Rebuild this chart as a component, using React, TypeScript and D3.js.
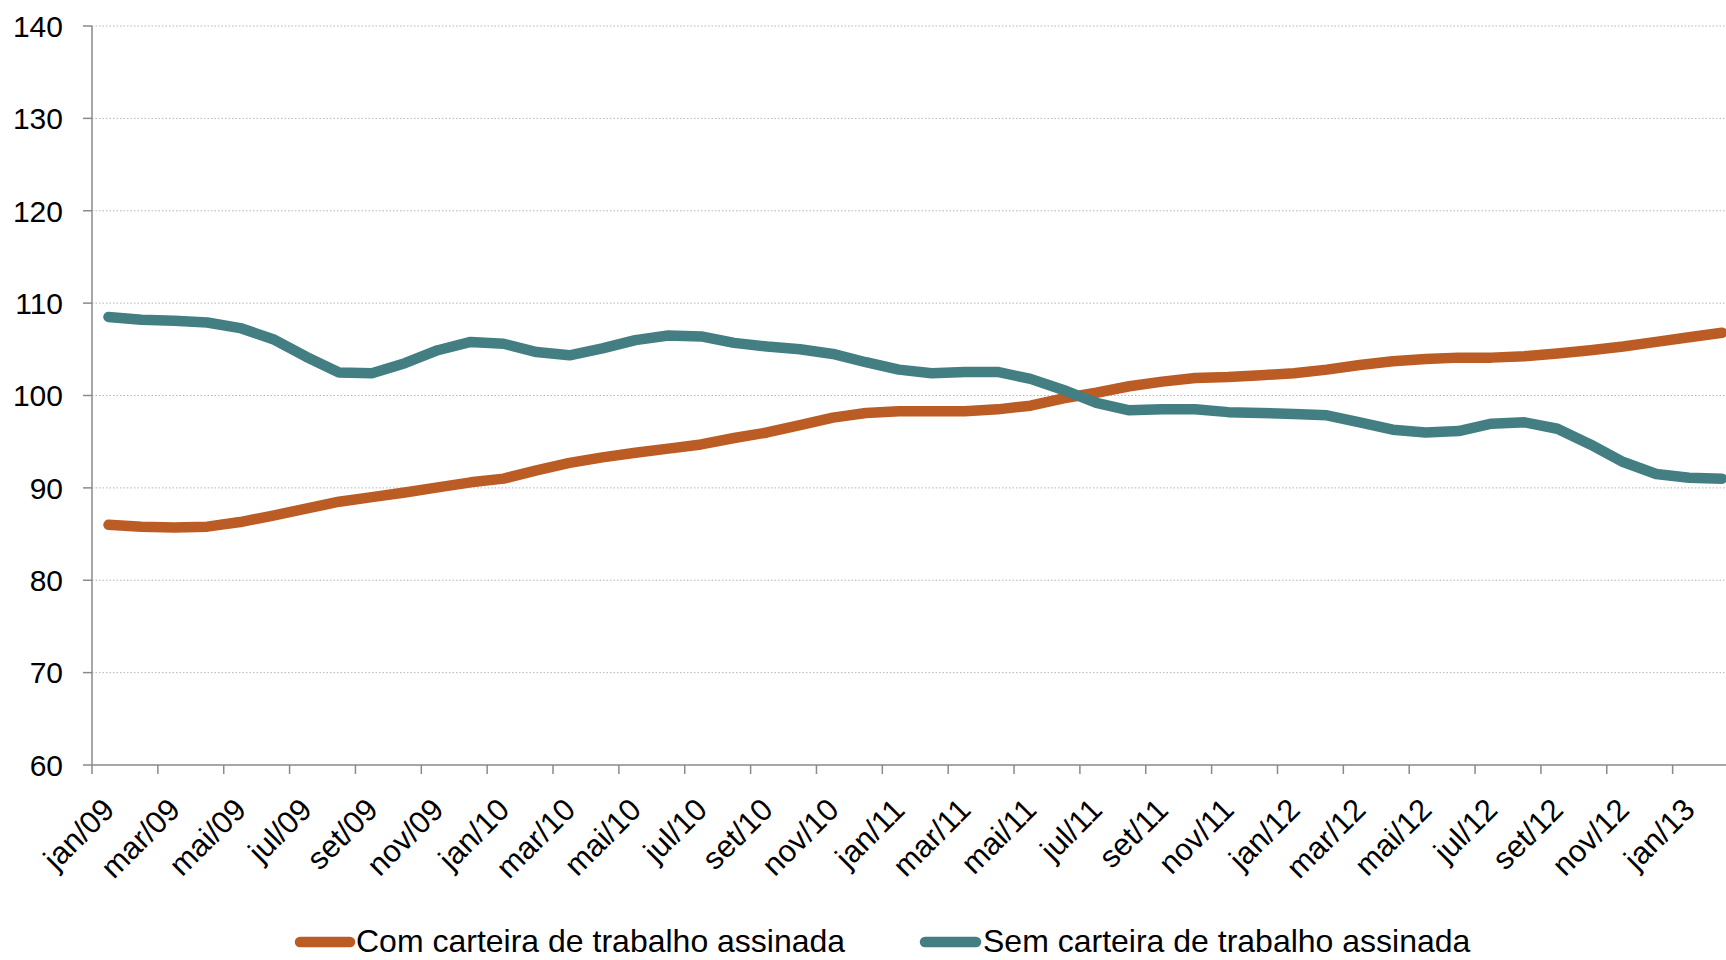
import * as d3 from "d3";

// month abbreviations (pt-BR), jan/09 .. fev/13
const MONTHS = ["jan", "fev", "mar", "abr", "mai", "jun", "jul", "ago", "set", "out", "nov", "dez"];
const YEARS = ["09", "10", "11", "12", "13"];
const CATEGORIES: string[] = YEARS.flatMap((y) => MONTHS.map((m) => `${m}/${y}`)).slice(0, 50);

const COM_CARTEIRA = [
  86.0, 85.8, 85.7, 85.8, 86.3, 87.0, 87.75, 88.5, 89.0, 89.5, 90.05, 90.6,
  91.0, 91.9, 92.7, 93.3, 93.8, 94.25, 94.7, 95.4, 96.0, 96.8, 97.6, 98.1,
  98.3, 98.3, 98.3, 98.5, 98.9, 99.7, 100.3, 101.0, 101.5, 101.9, 102.0, 102.2,
  102.4, 102.8, 103.3, 103.7, 103.95, 104.1, 104.1, 104.25, 104.55, 104.9, 105.3, 105.8,
  106.3, 106.8,
];

const SEM_CARTEIRA = [
  108.5, 108.2, 108.1, 107.9, 107.3, 106.1, 104.2, 102.5, 102.4, 103.5, 104.9, 105.8,
  105.6, 104.7, 104.35, 105.1, 106.0, 106.5, 106.4, 105.7, 105.3, 105.0, 104.5, 103.6,
  102.8, 102.4, 102.55, 102.55, 101.8, 100.6, 99.2, 98.4, 98.5, 98.5, 98.2, 98.1,
  98.0, 97.85, 97.1, 96.3, 96.0, 96.15, 96.95, 97.1, 96.4, 94.7, 92.8, 91.5,
  91.1, 91.0,
];

const Y_TICKS = [60, 70, 80, 90, 100, 110, 120, 130, 140];

const SERIES = [
  { name: "Com carteira de trabalho assinada", values: COM_CARTEIRA, color: "#BA5C24" },
  { name: "Sem carteira de trabalho assinada", values: SEM_CARTEIRA, color: "#437E83" },
];

const W = 1726;
const H = 960;
const FONT = "'Liberation Sans', Arial, Helvetica, sans-serif";

export default function App() {
  const left = 92;
  const top = 26;
  const bottom = 765;
  const step = 32.93;

  const x = d3.scaleBand<string>()
    .domain(CATEGORIES)
    .range([left, left + step * CATEGORIES.length])
    .paddingInner(0)
    .paddingOuter(0);
  const cx = (c: string) => (x(c) ?? 0) + x.bandwidth() / 2;

  const y = d3.scaleLinear().domain([60, 140]).range([bottom, top]);

  const line = d3.line<number>()
    .x((_, i) => cx(CATEGORIES[i]))
    .y((d) => y(d));

  const labeled = CATEGORIES.filter((_, i) => i % 2 === 0);

  const legendItems = [
    { s: SERIES[0], x0: 300, x1: 350, tx: 356 },
    { s: SERIES[1], x0: 925, x1: 976, tx: 983 },
  ];

  return (
    <div style={{ position: "absolute", left: 0, top: 0 }}>
      <svg width={W} height={H} style={{ display: "block", background: "#fff" }} fontFamily={FONT}>
        {/* gridlines */}
        {Y_TICKS.filter((t) => t > 60).map((t) => (
          <line key={`g${t}`} x1={left} x2={W} y1={y(t)} y2={y(t)}
            stroke="#b5b5b5" strokeWidth={1} strokeDasharray="1.5,2" />
        ))}

        {/* y axis */}
        <line x1={left} x2={left} y1={top} y2={bottom} stroke="#8a8a8a" strokeWidth={1.5} />
        {Y_TICKS.map((t) => (
          <g key={`y${t}`}>
            <line x1={left - 9} x2={left} y1={y(t)} y2={y(t)} stroke="#8a8a8a" strokeWidth={1.5} />
            <text x={63} y={y(t)} dy="0.36em" textAnchor="end" fontSize={30} fill="#000">{t}</text>
          </g>
        ))}

        {/* x axis */}
        <line x1={left} x2={W} y1={bottom} y2={bottom} stroke="#8a8a8a" strokeWidth={1.5} />
        {labeled.map((c) => (
          <line key={`t${c}`} x1={x(c) ?? 0} x2={x(c) ?? 0} y1={bottom} y2={bottom + 9}
            stroke="#8a8a8a" strokeWidth={1.5} />
        ))}
        {labeled.map((c) => (
          <text key={`l${c}`} transform={`translate(${cx(c)},${bottom + 39}) rotate(-45)`}
            dy="0.35em" textAnchor="end" fontSize={31} fill="#000">{c}</text>
        ))}

        {/* series */}
        {SERIES.map((s) => (
          <path key={s.name} d={line(s.values) ?? ""} fill="none" stroke={s.color}
            strokeWidth={10.5} strokeLinejoin="round" strokeLinecap="round" />
        ))}

        {/* legend */}
        {legendItems.map(({ s, x0, x1, tx }) => (
          <g key={`lg${s.name}`}>
            <line x1={x0} x2={x1} y1={942} y2={942} stroke={s.color} strokeWidth={10.5} strokeLinecap="round" />
            <text x={tx} y={952} fontSize={32} fill="#000">{s.name}</text>
          </g>
        ))}
      </svg>
    </div>
  );
}
